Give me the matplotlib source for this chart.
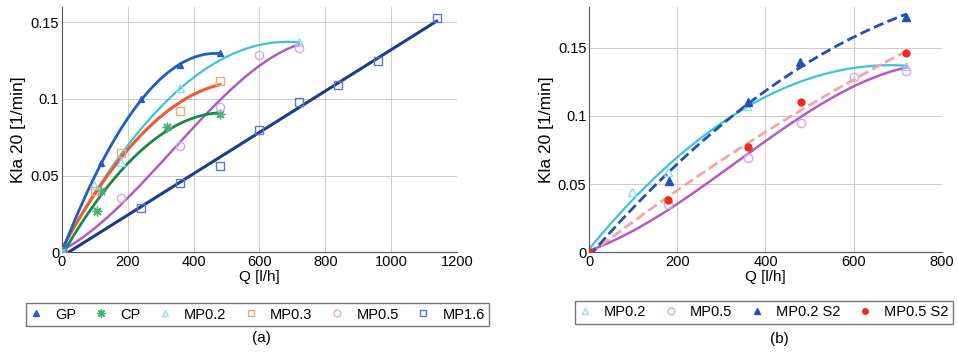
import matplotlib.pyplot as plt
from matplotlib.lines import Line2D
import numpy as np

plt.rcParams['font.family'] = ['Liberation Sans', 'DejaVu Sans']

# Portata d'aria Q [l/h] e Kla 20 [1/min] misurati
gp_q = [0, 120, 240, 360, 480]
gp_kla = [0, 0.058, 0.100, 0.122, 0.130]

cp_q = [0, 105, 120, 320, 480]
cp_kla = [0, 0.027, 0.040, 0.082, 0.090]

mp02_q = [0, 97, 178, 358, 720]
mp02_kla = [0, 0.044, 0.059, 0.107, 0.137]

mp03_q = [0, 100, 180, 358, 480]
mp03_kla = [0, 0.040, 0.065, 0.092, 0.112]

mp05_q = [0, 180, 360, 480, 600, 720]
mp05_kla = [0, 0.035, 0.069, 0.095, 0.129, 0.133]

mp16_q = [0, 240, 358, 480, 600, 720, 840, 960, 1138]
mp16_kla = [0, 0.029, 0.045, 0.056, 0.080, 0.098, 0.109, 0.125, 0.153]

# seconda serie di prove
mp02s2_q = [0, 181, 360, 478, 720]
mp02s2_kla = [0, 0.052, 0.110, 0.140, 0.173]

mp05s2_q = [0, 180, 360, 480, 720]
mp05s2_kla = [0, 0.038, 0.077, 0.110, 0.146]

GP_COLOR = '#1f5cc4'
CP_COLOR = '#178a48'
MP02_COLOR = '#3cc2dc'
MP03_COLOR = '#f2582e'
MP05_COLOR = '#b05cc4'
MP16_COLOR = '#1c3c8c'
S2_BLUE = '#2150b8'
S2_RED = '#f22a1a'

ASTERISK = (8, 2, 0)


def fit_curve(ax, q, kla, deg, color, lw=2.0, ls='-'):
    coeff = np.polyfit(q, kla, deg)
    qq = np.linspace(0, max(q), 200)
    ax.plot(qq, np.polyval(coeff, qq), color=color, lw=lw, ls=ls, zorder=2)


def style_axes(ax, xmax, ymax):
    ax.set_xlim(0, xmax)
    ax.set_ylim(0, ymax)
    ax.set_yticks([0, 0.05, 0.1, 0.15])
    ax.set_yticklabels(['0', '0.05', '0.1', '0.15'])
    ax.grid(True, color='#cccccc', lw=0.7)
    ax.set_axisbelow(True)
    for s in ['top', 'right']:
        ax.spines[s].set_visible(False)
    for s in ['left', 'bottom']:
        ax.spines[s].set_color('#555555')
    ax.tick_params(length=0, labelsize=10.5, pad=2)
    ax.set_xlabel('Q [l/h]', fontsize=11, labelpad=1)
    ax.set_ylabel('Kla 20 [1/min]', fontsize=12.5, labelpad=3)


fig = plt.figure(figsize=(9.58, 3.55), dpi=100)
ax1 = fig.add_axes([0.0647, 0.29, 0.4123, 0.69])
ax2 = fig.add_axes([0.615, 0.29, 0.368, 0.69])

# Grafico (a): tutti i diffusori
fit_curve(ax1, mp16_q, mp16_kla, 1, MP16_COLOR, lw=2.2)
fit_curve(ax1, mp05_q, mp05_kla, 3, MP05_COLOR, lw=1.8)
fit_curve(ax1, mp02_q, mp02_kla, 2, MP02_COLOR, lw=1.6)
fit_curve(ax1, mp03_q, mp03_kla, 2, MP03_COLOR, lw=2.2)
fit_curve(ax1, cp_q, cp_kla, 2, CP_COLOR, lw=2.0)
fit_curve(ax1, gp_q, gp_kla, 2, GP_COLOR, lw=2.0)

ax1.plot(gp_q, gp_kla, '^', color=GP_COLOR, ms=5, zorder=3)
ax1.plot(cp_q, cp_kla, ls='none', marker=ASTERISK, mec='#4aae74', ms=7, mew=1, zorder=3)
ax1.plot(mp02_q, mp02_kla, '^', mfc='none', mec='#8fdcef', ms=6, zorder=3)
ax1.plot(mp03_q, mp03_kla, 's', mfc='none', mec='#f8a482', ms=6, zorder=3)
ax1.plot(mp05_q, mp05_kla, 'o', mfc='none', mec='#d8a8e6', ms=6, zorder=3)
ax1.plot(mp16_q, mp16_kla, 's', mfc='none', mec='#5878d8', ms=5.5, zorder=3)
style_axes(ax1, 1200, 0.16)
ax1.set_xticks(np.arange(0, 1201, 200))

# Grafico (b): confronto con la seconda serie
fit_curve(ax2, mp05_q, mp05_kla, 3, MP05_COLOR, lw=1.8)
fit_curve(ax2, mp02_q, mp02_kla, 2, MP02_COLOR, lw=1.6)
fit_curve(ax2, mp05s2_q, mp05s2_kla, 2, '#f6a6a0', lw=2.0, ls='--')
fit_curve(ax2, mp02s2_q, mp02s2_kla, 2, S2_BLUE, lw=2.0, ls='--')

ax2.plot(mp02_q[1:], mp02_kla[1:], '^', mfc='none', mec='#8fdcef', ms=6, zorder=3)
ax2.plot(mp05_q[1:], mp05_kla[1:], 'o', mfc='none', mec='#d8a8e6', ms=6, zorder=3)
ax2.plot(mp02s2_q[1:], mp02s2_kla[1:], '^', color=S2_BLUE, ms=6, zorder=3)
ax2.plot(mp05s2_q, mp05s2_kla, 'o', color=S2_RED, ms=5, zorder=3)
style_axes(ax2, 800, 0.18)
ax2.set_xticks(np.arange(0, 801, 200))

# Legende orizzontali
leg_a = [
    Line2D([], [], ls='none', marker='^', color=GP_COLOR, ms=5),
    Line2D([], [], ls='none', marker=ASTERISK, mec='#4aae74', ms=6, mew=1),
    Line2D([], [], ls='none', marker='^', mfc='none', mec='#8fdcef', ms=5),
    Line2D([], [], ls='none', marker='s', mfc='none', mec='#f8a482', ms=5),
    Line2D([], [], ls='none', marker='o', mfc='none', mec='#d8a8e6', ms=5),
    Line2D([], [], ls='none', marker='s', mfc='none', mec='#5878d8', ms=5),
]
leg_b = [
    Line2D([], [], ls='none', marker='^', mfc='none', mec='#8fdcef', ms=5),
    Line2D([], [], ls='none', marker='o', mfc='none', mec='#d8a8e6', ms=5),
    Line2D([], [], ls='none', marker='^', color=S2_BLUE, ms=5),
    Line2D([], [], ls='none', marker='o', color=S2_RED, ms=4),
]
leg_kw = dict(loc='center', fontsize=10.5, fancybox=False, edgecolor='#555555',
              handletextpad=0.9, columnspacing=1.3, borderpad=0.3,
              handlelength=0.8)
la = fig.legend(leg_a, ['GP', 'CP', 'MP0.2', 'MP0.3', 'MP0.5', 'MP1.6'],
                bbox_to_anchor=(0.2688, 0.114), ncol=6, **leg_kw)
lb = fig.legend(leg_b, ['MP0.2', 'MP0.5', 'MP0.2 S2', 'MP0.5 S2'],
                bbox_to_anchor=(0.7975, 0.120), ncol=4, **leg_kw)
la.get_frame().set_linewidth(1.0)
lb.get_frame().set_linewidth(1.0)

fig.text(0.273, 0.048, '(a)', ha='center', va='center', fontsize=11)
fig.text(0.814, 0.045, '(b)', ha='center', va='center', fontsize=11)

fig.savefig('out.png', dpi=100)
